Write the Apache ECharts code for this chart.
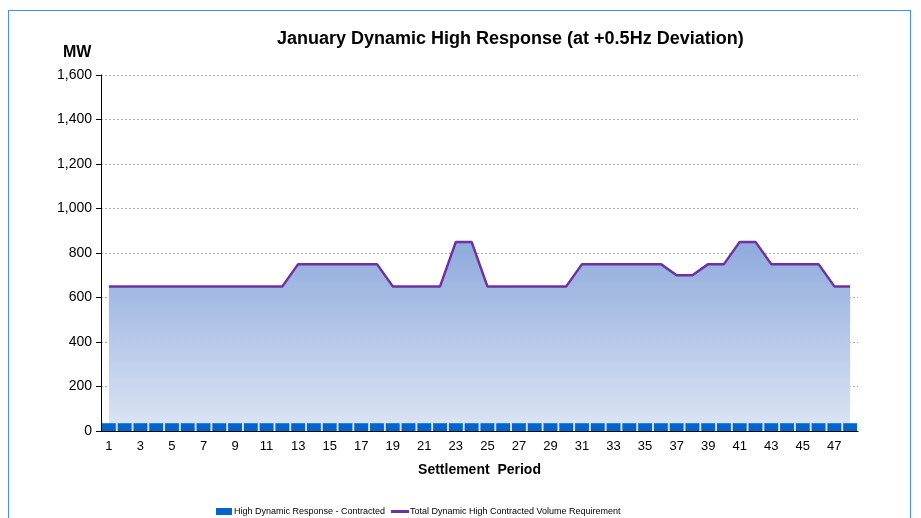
<!DOCTYPE html>
<html>
<head>
<meta charset="utf-8">
<script src="https://cdn.jsdelivr.net/npm/echarts@6/dist/echarts.min.js"></script>
<style>
  html, body { margin: 0; padding: 0; background: #fff; }
  #wrap { position: relative; width: 921px; height: 518px; overflow: hidden; }
  #frame { position: absolute; left: 8px; top: 10px; width: 903px; height: 520px; border: 1px solid #4a90e2; box-sizing: border-box; }
  #main { position: absolute; left: 0; top: 0; width: 921px; height: 518px; }
</style>
</head>
<body>
<div id="wrap">
  <div id="frame"></div>
  <div id="main"></div>
</div>
<script>
// settlement periods 1..48
var periods = [];
for (var i = 1; i <= 48; i++) periods.push(String(i));

// contracted high dynamic response (MW) - small constant bars
var contracted = [35,35,35,35,35,35,35,35,35,35,35,35,35,35,35,35,35,35,35,35,35,35,35,35,
                  35,35,35,35,35,35,35,35,35,35,35,35,35,35,35,35,35,35,35,35,35,35,35,35];

// total requirement (MW)
var requirement = [650,650,650,650,650,650,650,650,650,650,650,650,
                   750,750,750,750,750,750,650,650,650,650,850,850,
                   650,650,650,650,650,650,750,750,750,750,750,750,
                   700,700,750,750,850,850,750,750,750,750,650,650];

var chartTitle = 'January Dynamic High Response (at +0.5Hz Deviation)';
var barName = 'High Dynamic Response - Contracted';
var lineName = 'Total Dynamic High Contracted Volume Requirement';

var myChart = echarts.init(document.getElementById('main'));

var option = {
    animation: false,
    textStyle: { fontFamily: 'Liberation Sans, Arial, sans-serif' },
    title: [{
        text: chartTitle,
        left: 272, top: 25,
        textStyle: { fontSize: 18, fontWeight: 'bold', color: '#000' }
    }, {
        text: 'MW',
        left: 58, top: 40,
        textStyle: { fontSize: 16, fontWeight: 'bold', color: '#000' }
    }],
    legend: [{
        data: [barName],
        left: 211, top: 502,
        itemWidth: 16, itemHeight: 7, icon: 'rect',
        textStyle: { fontSize: 9, color: '#000', padding: [0, 0, 0, -3] }
    }, {
        data: [lineName],
        left: 386, top: 502,
        itemWidth: 18, itemHeight: 3, icon: 'rect',
        textStyle: { fontSize: 9, color: '#000', padding: [0, 0, 0, -4] }
    }],
    grid: { left: 101, right: 63, top: 75, bottom: 87 },
    xAxis: {
        type: 'category',
        data: periods,
        name: 'Settlement  Period',
        nameLocation: 'middle',
        nameGap: 32,
        nameTextStyle: { fontSize: 14, fontWeight: 'bold', color: '#000' },
        axisLine: { lineStyle: { color: '#000' } },
        axisTick: { length: 5, lineStyle: { color: '#000' } },
        axisLabel: { interval: 1, fontSize: 13, color: '#000', margin: 9 },
        splitLine: { show: false }
    },
    yAxis: {
        type: 'value',
        min: 0, max: 1600, interval: 200,
        axisLine: { show: true, lineStyle: { color: '#000' } },
        axisTick: { show: true, length: 5, lineStyle: { color: '#000' } },
        axisLabel: {
            fontSize: 14, color: '#000', margin: 9,
            formatter: function (v) { return v.toLocaleString('en-US'); }
        },
        splitLine: { lineStyle: { color: '#b0b0b0', type: [2, 2], width: 1 } }
    },
    series: [{
        name: lineName,
        type: 'line',
        data: requirement,
        symbol: 'none',
        z: 2,
        lineStyle: { color: '#7030a0', width: 2.5 },
        itemStyle: { color: '#7030a0' },
        areaStyle: {
            color: new echarts.graphic.LinearGradient(0, 0, 0, 1, [
                { offset: 0, color: '#8eaadc' },
                { offset: 1, color: '#dde5f4' }
            ]),
            opacity: 1
        }
    }, {
        name: barName,
        type: 'bar',
        data: contracted,
        z: 3,
        barCategoryGap: '12%',
        itemStyle: { color: '#0066cc' }
    }]
};

myChart.setOption(option);
</script>
</body>
</html>
